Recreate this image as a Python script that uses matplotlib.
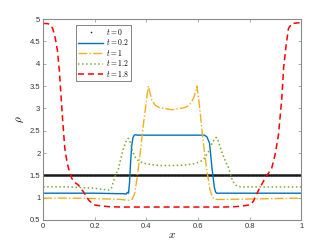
import numpy as np
import matplotlib
matplotlib.use("Agg")
import matplotlib.pyplot as plt

plt.rcParams["mathtext.fontset"] = "cm"
plt.rcParams["font.family"] = ["Liberation Sans", "DejaVu Sans"]

# t = 0: constant state
x0 = np.linspace(0, 1, 1200)
rho0 = np.full(x0.shape, 1.5)

# t = 0.2
blue_x = [0, 0.1, 0.2, 0.29, 0.31, 0.322, 0.327, 0.331, 0.335, 0.339, 0.343,
          0.348, 0.353, 0.358, 0.365, 0.4, 0.5, 0.6, 0.625, 0.635, 0.645,
          0.654, 0.663, 0.668, 0.673, 0.7, 0.8, 0.9, 1.0]
blue_y = [1.10, 1.10, 1.10, 1.09, 1.09, 1.08, 1.12, 1.10, 1.35, 1.80, 2.15,
          2.34, 2.40, 2.41, 2.40, 2.40, 2.40, 2.40, 2.40, 2.36, 2.22,
          1.69, 1.25, 1.13, 1.10, 1.10, 1.10, 1.10, 1.10]

# t = 1
orange_x = [0, 0.1, 0.2, 0.3, 0.33, 0.345, 0.355, 0.363, 0.370, 0.376, 0.383,
            0.389, 0.396, 0.402, 0.408, 0.414, 0.421, 0.434, 0.45, 0.466, 0.5,
            0.534, 0.55, 0.566, 0.575, 0.583, 0.59, 0.596, 0.603, 0.609, 0.615,
            0.621, 0.628, 0.634, 0.641, 0.647, 0.655, 0.66, 0.67, 0.7, 0.8,
            0.9, 1.0]
orange_y = [0.99, 0.99, 0.98, 0.96, 0.94, 0.96, 1.10, 1.40, 1.70, 1.99, 2.35,
            2.66, 2.98, 3.26, 3.50, 3.35, 3.19, 3.07, 3.02, 3.00, 2.97,
            3.00, 3.02, 3.07, 3.14, 3.23, 3.35, 3.50, 3.20, 2.89, 2.55,
            2.22, 1.90, 1.62, 1.38, 1.17, 1.03, 0.985, 0.96, 0.96, 0.97,
            0.98, 0.99]

# t = 1.2
green_x = [0, 0.1, 0.15, 0.2, 0.24, 0.255, 0.265, 0.275, 0.283, 0.29, 0.30,
           0.31, 0.32, 0.33, 0.337, 0.345, 0.355, 0.37, 0.39, 0.42, 0.45, 0.5,
           0.55, 0.585, 0.61, 0.625, 0.64, 0.655, 0.665, 0.671, 0.678, 0.686,
           0.695, 0.705, 0.712, 0.718, 0.725, 0.731, 0.74, 0.751, 0.77, 0.85,
           1.0]
green_y = [1.245, 1.24, 1.225, 1.21, 1.18, 1.17, 1.22, 1.40, 1.55, 1.60, 1.85,
           2.08, 2.25, 2.33, 2.25, 2.08, 1.92, 1.82, 1.77, 1.74, 1.72, 1.72,
           1.73, 1.76, 1.81, 1.88, 2.02, 2.22, 2.32, 2.35, 2.28, 2.14,
           1.98, 1.84, 1.74, 1.68, 1.55, 1.43, 1.32, 1.26, 1.24, 1.24,
           1.24]

# t = 1.8
red_x = [0, 0.015, 0.027, 0.037, 0.047, 0.056, 0.063, 0.069, 0.076, 0.084,
         0.091, 0.098, 0.111, 0.125, 0.137, 0.156, 0.176, 0.195, 0.22, 0.25,
         0.3, 0.5, 0.7, 0.75, 0.78, 0.802, 0.815, 0.835, 0.86, 0.886, 0.899,
         0.912, 0.925, 0.932, 0.942, 0.951, 0.964, 0.98, 1.0]
red_y = [4.90, 4.90, 4.88, 4.79, 4.57, 4.27, 3.82, 3.30, 2.70, 2.10,
         1.85, 1.66, 1.43, 1.33, 1.28, 1.13, 0.95, 0.84, 0.82, 0.80,
         0.79, 0.79, 0.79, 0.80, 0.82, 0.84, 0.92, 1.17, 1.43, 1.66, 1.96,
         2.40, 3.22, 3.90, 4.42, 4.79, 4.90, 4.91, 4.92]

fig = plt.figure(figsize=(3.32, 2.49), dpi=100)
ax = fig.add_axes([0.13, 0.1165, 0.777, 0.807])

ax.plot(x0, rho0, ".", color="#1a1a1a", markersize=2.3, markeredgewidth=0,
        label=r"$t=0$")
ax.plot(blue_x, blue_y, "-", color="#0072BD", lw=1.0, label=r"$t=0.2$")
ax.plot(orange_x, orange_y, "-.", color="#EDB120", lw=1.0, label=r"$t=1$")
ax.plot(green_x, green_y, ":", color="#77AC30", lw=1.1, label=r"$t=1.2$")
ax.plot(red_x, red_y, "--", color="#FF0000", lw=1.1, dashes=(4, 2.5), label=r"$t=1.8$")

ax.set_xlim(0, 1)
ax.set_ylim(0.5, 5)
ax.set_xticks([0, 0.2, 0.4, 0.6, 0.8, 1])
ax.set_xticklabels(["0", "0.2", "0.4", "0.6", "0.8", "1"])
ax.set_yticks([0.5, 1, 1.5, 2, 2.5, 3, 3.5, 4, 4.5, 5])
ax.set_yticklabels(["0.5", "1", "1.5", "2", "2.5", "3", "3.5", "4", "4.5", "5"])
ax.tick_params(direction="in", length=2, width=0.5, top=True, right=True,
               labelsize=5.5, colors="#8a8a8a", labelcolor="#333333", pad=2)
for spine in ax.spines.values():
    spine.set_color("#8a8a8a")
    spine.set_linewidth(0.8)

ax.set_xlabel(r"$x$", fontsize=8, labelpad=0)
ax.set_ylabel(r"$\rho$", fontsize=8, labelpad=3)

leg = ax.legend(loc="upper left", bbox_to_anchor=(0.128, 0.972), fontsize=5.5,
                numpoints=1, handlelength=3.2, handletextpad=0.4,
                labelspacing=0.06, borderpad=0.3, borderaxespad=0,
                fancybox=False, framealpha=1, edgecolor="#555555")
leg.get_frame().set_linewidth(0.5)

fig.savefig("out.png", dpi=100)
